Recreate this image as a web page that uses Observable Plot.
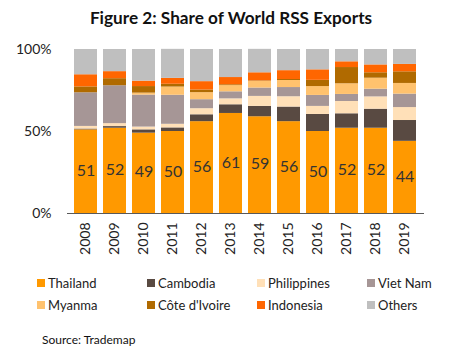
<!DOCTYPE html>
<html>
<head>
<meta charset="utf-8">
<script src="https://cdn.jsdelivr.net/npm/d3@7"></script>
<script src="https://cdn.jsdelivr.net/npm/@observablehq/plot@0.6"></script>
<style>
  body { margin: 0; background: #fff; font-family: Lato, "Open Sans", sans-serif; }
  #wrap { width: 472px; height: 356px; position: relative; overflow: hidden; }
  #title { height: 30px; line-height: 30px; font-weight: bold; font-size: 17.2px; color: #111; text-align: center; box-sizing: border-box; padding-top: 3px; margin-right: 10px; }
  #chart svg { display: block; }
  #legend { padding-top: 9px; padding-left: 37px; display: grid; grid-template-columns: 110px 110px 110px 110px; grid-auto-rows: 22px; }
  .item { display: flex; align-items: center; font-size: 13px; color: #222; white-space: nowrap; }
  .sw { width: 8px; height: 8px; margin-right: 3px; flex: none; }
  #source { margin-top: 16px; padding-left: 42px; font-size: 12px; line-height: 16px; color: #111; }
</style>
</head>
<body>
<div id="wrap">
  <div id="title">Figure 2: Share of World RSS Exports</div>
  <div id="chart"></div>
  <div id="legend"></div>
  <div id="source">Source: Trademap</div>
</div>
<script>
const years = ["2008","2009","2010","2011","2012","2013","2014","2015","2016","2017","2018","2019"];
const countries = ["Thailand","Cambodia","Philippines","Viet Nam","Myanma","Côte d'Ivoire","Indonesia","Others"];
const colors = ["#FF9900","#594A42","#FFE0B8","#A69696","#FFC26E","#B06A00","#FF6600","#BFBFBF"];

const thailand    = [51, 52, 49, 50, 56, 61, 59, 56, 50, 52, 52, 44];
const cambodia    = [0.5, 1.0, 2.0, 2.2, 4.2, 5.3, 6.3, 8.9, 10.4, 8.8, 11.6, 12.7];
const philippines = [1.6, 1.8, 1.7, 2.2, 3.7, 3.6, 6.1, 6.3, 4.9, 7.5, 7.5, 7.9];
const vietnam     = [20.5, 23.1, 19.5, 17.7, 5.5, 4.3, 5.1, 5.6, 6.7, 4.3, 4.7, 8.2];
const myanma      = [0, 0, 1.2, 5.0, 4.3, 3.8, 4.1, 4.3, 5.4, 6.5, 6.7, 6.5];
const cote        = [3.6, 4.3, 4.0, 1.7, 1.6, 0.5, 0.3, 0.6, 3.8, 9.9, 3.3, 7.1];
const indonesia   = [7.4, 4.3, 3.3, 3.6, 5.1, 4.4, 4.9, 5.4, 6.4, 3.5, 4.8, 4.5];
const others      = [15.4, 13.5, 19.3, 17.7, 19.6, 17.1, 14.3, 12.9, 12.4, 7.5, 9.4, 9.1];
const yTicks = [0, 50, 100];

const series = [thailand, cambodia, philippines, vietnam, myanma, cote, indonesia, others];
const rows = [];
years.forEach((yr, i) => {
  countries.forEach((c, j) => rows.push({year: yr, country: c, value: series[j][i]}));
});
const labels = years.map((yr, i) => ({year: yr, value: thailand[i]}));

const chart = Plot.plot({
  width: 472,
  height: 233,
  marginTop: 19,
  marginBottom: 50,
  marginLeft: 67,
  marginRight: 48,
  style: {fontFamily: "Lato, 'Open Sans', sans-serif", fontSize: "14px", color: "#222"},
  x: {domain: years, paddingInner: 0.2, paddingOuter: 0.1},
  y: {domain: [0, 100]},
  color: {domain: countries, range: colors},
  marks: [
    Plot.barY(rows, Plot.stackY({order: countries}, {x: "year", y: "value", fill: "country"})),
    Plot.ruleY([0], {stroke: "#595959", strokeWidth: 1.2}),
    Plot.text(labels, {x: "year", y: d => d.value / 2, text: d => String(d.value), fill: "#333", fontSize: 16, dy: -1}),
    Plot.axisY(yTicks, {tickSize: 0, tickPadding: 16, tickFormat: d => d + "%", label: null, fontSize: 14}),
    Plot.axisX({tickSize: 0, tickRotate: -90, tickPadding: 9, label: null, fontSize: 14})
  ]
});
document.getElementById("chart").appendChild(chart);

const legend = document.getElementById("legend");
countries.forEach((c, j) => {
  const it = document.createElement("div");
  it.className = "item";
  const sw = document.createElement("span");
  sw.className = "sw";
  sw.style.background = colors[j];
  const t = document.createElement("span");
  t.textContent = c;
  it.appendChild(sw); it.appendChild(t);
  legend.appendChild(it);
});
</script>
</body>
</html>
